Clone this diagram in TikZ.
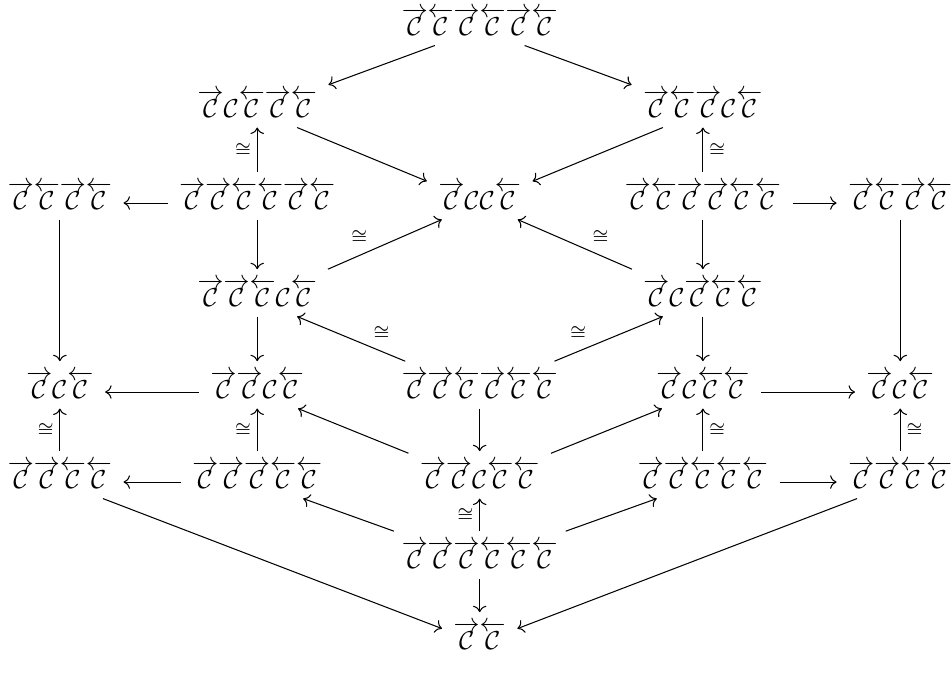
\documentclass[tikz,border=0pt]{standalone}
\usepackage{amsmath}
\usepackage{amssymb}
\usepackage{tikz}
\usetikzlibrary{arrows.meta, cd}

\newcommand{\rC}{\overrightarrow{\mathcal{C}}}
\newcommand{\lC}{\overleftarrow{\mathcal{C}}}
\newcommand{\cC}{\mathcal{C}}

\tikzset{
    obj/.style={shape=asymmetrical rectangle, inner xsep=1ex, inner ysep=0.85ex},
    map/.style={->},
    iso/.style={inner sep=0.5ex}
}

\begin{document}
\begin{tikzpicture}
    \useasboundingbox (0,0) rectangle (12.867,9.187);
    % rows, top to bottom
    \node[obj] (top) at (6.49,8.795) {$\rC\lC\rC\lC\rC\lC$};
    \node[obj] (al) at (3.48,7.685) {$\rC\cC\lC\rC\lC$};
    \node[obj] (ar) at (9.51,7.685) {$\rC\lC\rC\cC\lC$};
    \node[obj] (b1) at (0.81,6.44) {$\rC\lC\rC\lC$};
    \node[obj] (b2) at (3.48,6.44) {$\rC\rC\lC\lC\rC\lC$};
    \node[obj] (b3) at (6.49,6.44) {$\rC\cC\cC\lC$};
    \node[obj] (b4) at (9.51,6.44) {$\rC\lC\rC\rC\lC\lC$};
    \node[obj] (b5) at (12.18,6.44) {$\rC\lC\rC\lC$};
    \node[obj] (cl) at (3.48,5.128) {$\rC\rC\lC\cC\lC$};
    \node[obj] (cr) at (9.51,5.128) {$\rC\cC\rC\lC\lC$};
    \node[obj] (d1) at (0.81,3.883) {$\rC\cC\lC$};
    \node[obj] (d2) at (3.48,3.883) {$\rC\rC\cC\lC$};
    \node[obj] (d3) at (6.49,3.883) {$\rC\rC\lC\rC\lC\lC$};
    \node[obj] (d4) at (9.51,3.883) {$\rC\cC\lC\lC$};
    \node[obj] (d5) at (12.18,3.883) {$\rC\cC\lC$};
    \node[obj] (e1) at (0.81,2.665) {$\rC\rC\lC\lC$};
    \node[obj] (e2) at (3.48,2.665) {$\rC\rC\rC\lC\lC$};
    \node[obj] (e3) at (6.49,2.665) {$\rC\rC\cC\lC\lC$};
    \node[obj] (e4) at (9.51,2.665) {$\rC\rC\lC\lC\lC$};
    \node[obj] (e5) at (12.18,2.665) {$\rC\rC\lC\lC$};
    \node[obj] (f) at (6.49,1.583) {$\rC\rC\rC\lC\lC\lC$};
    \node[obj] (g) at (6.49,0.487) {$\rC\lC$};

    % top part
    \draw[map] (top) -- (al);
    \draw[map] (top) -- (ar);
    \draw[map] (al) -- (b3);
    \draw[map] (ar) -- (b3);
    \draw[map] (b2) -- node[iso, left] {$\scriptstyle\cong$} (al);
    \draw[map] (b4) -- node[iso, right] {$\scriptstyle\cong$} (ar);
    \draw[map] (b2) -- (b1);
    \draw[map] (b4) -- (b5);
    \draw[map] (b2) -- (cl);
    \draw[map] (b4) -- (cr);
    \draw[map] (cl) -- node[iso, above left, pos=0.4] {$\scriptstyle\cong$} (b3);
    \draw[map] (cr) -- node[iso, above right, pos=0.4] {$\scriptstyle\cong$} (b3);
    \draw[map] (d3) -- node[iso, above right, pos=0.35] {$\scriptstyle\cong$} (cl);
    \draw[map] (d3) -- node[iso, above left, pos=0.35] {$\scriptstyle\cong$} (cr);

    % middle part
    \draw[map] (b1) -- (d1);
    \draw[map] (b5) -- (d5);
    \draw[map] (cl) -- (d2);
    \draw[map] (cr) -- (d4);
    \draw[map] (d2) -- (d1);
    \draw[map] (d4) -- (d5);
    \draw[map] (d3) -- (e3);
    \draw[map] (e1) -- node[iso, left] {$\scriptstyle\cong$} (d1);
    \draw[map] (e2) -- node[iso, left] {$\scriptstyle\cong$} (d2);
    \draw[map] (e4) -- node[iso, right] {$\scriptstyle\cong$} (d4);
    \draw[map] (e5) -- node[iso, right] {$\scriptstyle\cong$} (d5);
    \draw[map] (e3) -- (d2);
    \draw[map] (e3) -- (d4);
    \draw[map] (e2) -- (e1);
    \draw[map] (e4) -- (e5);

    % bottom part
    \draw[map] (f) -- node[iso, left] {$\scriptstyle\cong$} (e3);
    \draw[map] (f) -- (e2);
    \draw[map] (f) -- (e4);
    \draw[map] (f) -- (g);
    \draw[map] (e1) -- (g);
    \draw[map] (e5) -- (g);
\end{tikzpicture}
\end{document}
